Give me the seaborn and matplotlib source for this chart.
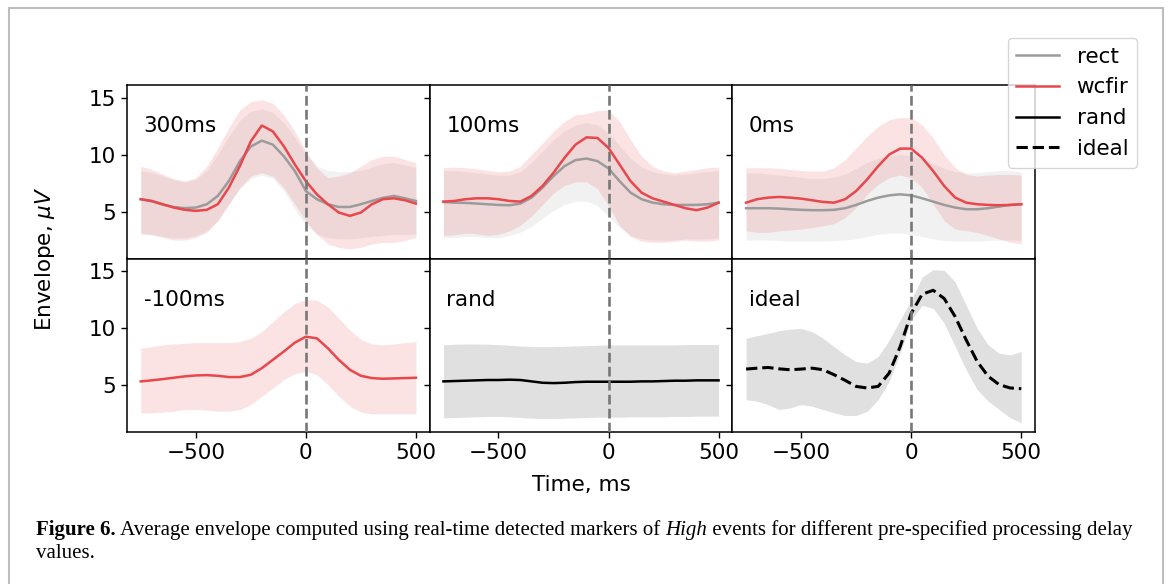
import matplotlib
matplotlib.use("Agg")
import matplotlib.pyplot as plt
import seaborn as sns
import pandas as pd
from matplotlib.lines import Line2D
from matplotlib.patches import Rectangle

# ---------------- data ----------------
T = [-750, -700, -650, -600, -550, -500, -450, -400, -350, -300, -250, -200, -150,
     -100, -50, 0, 50, 100, 150, 200, 250, 300, 350, 400, 450, 500]

# 300 ms delay
rect_300 = [6.08, 5.90, 5.60, 5.40, 5.30, 5.35, 5.64, 6.37, 7.67, 9.40, 10.70, 11.22, 10.87,
            9.85, 8.55, 6.80, 6.08, 5.64, 5.40, 5.40, 5.64, 5.93, 6.20, 6.37, 6.16, 5.93]
rect_300_lo = [3.1, 3.0, 2.8, 2.7, 2.7, 2.9, 3.3, 4.2, 5.6, 7.0, 7.9, 8.2, 7.9,
               6.8, 5.2, 3.8, 3.0, 2.7, 2.6, 2.6, 2.7, 2.8, 2.9, 3.0, 3.0, 3.0]
rect_300_hi = [8.6, 8.4, 8.1, 7.8, 7.6, 7.8, 8.6, 10.0, 11.6, 13.0, 13.8, 14.0, 13.7,
               12.8, 11.5, 10.0, 9.0, 8.6, 8.5, 8.5, 8.6, 8.9, 9.2, 9.3, 9.1, 8.8]
wcfir_300 = [6.08, 5.93, 5.64, 5.35, 5.15, 5.06, 5.15, 5.64, 7.09, 8.98, 11.16, 12.55, 12.03,
             10.73, 9.13, 7.67, 6.51, 5.64, 4.91, 4.62, 4.91, 5.64, 6.08, 6.16, 5.99, 5.70]
wcfir_300_lo = [3.02, 2.95, 2.73, 2.50, 2.50, 2.73, 3.17, 4.19, 5.64, 7.09, 8.11, 8.40, 8.11,
                7.09, 5.64, 4.19, 3.02, 2.15, 1.86, 1.72, 1.86, 2.15, 2.30, 2.30, 2.44, 2.73]
wcfir_300_hi = [8.98, 8.69, 8.26, 7.88, 7.67, 7.97, 8.98, 10.58, 12.33, 13.92, 14.65, 14.80, 14.50,
                13.49, 12.03, 10.29, 8.84, 7.97, 8.11, 8.40, 8.98, 9.56, 9.85, 9.85, 9.56, 9.27]

# 100 ms delay
rect_100 = [5.84, 5.78, 5.76, 5.70, 5.64, 5.58, 5.55, 5.70, 6.22, 7.09, 8.11, 8.98, 9.51,
            9.65, 9.42, 8.78, 7.67, 6.66, 6.08, 5.78, 5.64, 5.58, 5.58, 5.58, 5.64, 5.78]
rect_100_lo = [2.7, 2.7, 2.8, 2.8, 2.7, 2.7, 2.9, 3.2, 3.7, 4.4, 5.1, 5.6, 5.9,
               5.9, 5.5, 4.6, 3.6, 2.9, 2.6, 2.5, 2.5, 2.5, 2.6, 2.6, 2.6, 2.7]
rect_100_hi = [8.6, 8.6, 8.5, 8.4, 8.3, 8.2, 8.2, 8.5, 9.3, 10.3, 11.3, 12.1, 12.6,
               12.8, 12.6, 11.9, 10.8, 9.7, 8.9, 8.5, 8.3, 8.2, 8.3, 8.4, 8.5, 8.6]
wcfir_100 = [5.87, 5.93, 6.08, 6.16, 6.16, 6.08, 5.93, 5.87, 6.37, 7.24, 8.40, 9.71, 10.87,
             11.51, 11.45, 10.58, 9.13, 7.67, 6.66, 6.16, 5.87, 5.58, 5.29, 5.12, 5.35, 5.78]
wcfir_100_lo = [2.90, 2.95, 3.10, 3.05, 2.90, 3.00, 3.30, 3.80, 4.60, 5.60, 6.60, 7.30, 7.60,
                7.60, 7.00, 5.50, 3.80, 2.80, 2.40, 2.30, 2.30, 2.40, 2.50, 2.40, 2.40, 2.50]
wcfir_100_hi = [8.84, 8.90, 8.84, 8.75, 8.60, 8.49, 8.55, 8.98, 10.00, 11.00, 12.03, 12.90, 13.49,
                13.60, 13.85, 13.90, 12.90, 11.30, 9.85, 8.98, 8.55, 8.40, 8.55, 8.69, 8.84, 8.90]

# 0 ms delay
rect_0 = [5.29, 5.29, 5.29, 5.26, 5.20, 5.15, 5.12, 5.12, 5.15, 5.29, 5.58, 5.93, 6.22,
          6.42, 6.51, 6.42, 6.16, 5.87, 5.58, 5.35, 5.20, 5.20, 5.29, 5.44, 5.58, 5.64]
rect_0_lo = [2.5, 2.5, 2.5, 2.45, 2.4, 2.4, 2.4, 2.4, 2.45, 2.5, 2.6, 2.8, 3.0,
             3.1, 3.1, 3.0, 2.8, 2.6, 2.45, 2.4, 2.4, 2.4, 2.45, 2.5, 2.5, 2.5]
rect_0_hi = [8.4, 8.4, 8.3, 8.2, 8.1, 8.0, 7.9, 7.9, 8.0, 8.3, 8.8, 9.3, 9.7,
             9.9, 10.0, 9.9, 9.6, 9.2, 8.8, 8.5, 8.4, 8.4, 8.5, 8.6, 8.6, 8.5]
wcfir_0 = [5.78, 6.08, 6.22, 6.28, 6.22, 6.13, 5.99, 5.84, 5.78, 6.08, 6.80, 7.82, 8.98,
           10.00, 10.52, 10.52, 9.71, 8.55, 7.24, 6.22, 5.78, 5.64, 5.58, 5.55, 5.58, 5.64]
wcfir_0_lo = [3.31, 3.17, 3.17, 3.31, 3.37, 3.46, 3.60, 3.75, 3.95, 4.48, 5.35, 6.51, 7.38,
              7.97, 8.20, 7.97, 7.09, 5.64, 4.19, 3.46, 3.31, 3.17, 2.88, 2.59, 2.30, 2.15]
wcfir_0_hi = [8.84, 8.84, 8.84, 8.78, 8.69, 8.60, 8.55, 8.55, 8.84, 9.56, 10.58, 11.60, 12.47,
              13.05, 13.26, 13.20, 12.60, 11.45, 10.00, 8.84, 8.26, 8.11, 8.20, 8.26, 8.26, 8.20]

# -100 ms delay
wcfir_m100 = [5.32, 5.41, 5.52, 5.64, 5.76, 5.84, 5.87, 5.81, 5.70, 5.70, 5.90, 6.48, 7.21,
              7.94, 8.72, 9.24, 9.10, 8.23, 7.21, 6.34, 5.81, 5.61, 5.55, 5.58, 5.61, 5.64]
wcfir_m100_lo = [2.56, 2.56, 2.62, 2.70, 2.85, 2.85, 2.79, 2.70, 2.70, 2.85, 3.28, 4.01, 4.74,
                 5.47, 5.99, 6.19, 5.90, 5.03, 4.01, 3.14, 2.62, 2.47, 2.47, 2.47, 2.47, 2.47]
wcfir_m100_hi = [8.23, 8.37, 8.52, 8.60, 8.66, 8.72, 8.72, 8.72, 8.72, 8.81, 9.10, 9.68, 10.55,
                 11.42, 12.15, 12.50, 12.44, 11.86, 10.84, 9.83, 9.01, 8.60, 8.52, 8.60, 8.72, 8.81]

# random markers
rand = [5.32, 5.35, 5.38, 5.41, 5.44, 5.44, 5.47, 5.44, 5.32, 5.20, 5.17, 5.20, 5.26,
        5.29, 5.29, 5.29, 5.29, 5.29, 5.32, 5.32, 5.35, 5.38, 5.38, 5.41, 5.41, 5.41]
rand_lo = [2.12, 2.15, 2.18, 2.21, 2.24, 2.24, 2.21, 2.15, 2.09, 2.06, 2.06, 2.09, 2.12,
           2.15, 2.18, 2.18, 2.18, 2.21, 2.21, 2.21, 2.21, 2.24, 2.24, 2.27, 2.27, 2.27]
rand_hi = [8.52, 8.58, 8.60, 8.60, 8.58, 8.55, 8.49, 8.43, 8.37, 8.37, 8.37, 8.40, 8.43,
           8.46, 8.49, 8.52, 8.52, 8.52, 8.52, 8.52, 8.52, 8.52, 8.55, 8.55, 8.55, 8.55]

# ideal markers
ideal = [6.40, 6.48, 6.54, 6.42, 6.34, 6.40, 6.48, 6.34, 5.90, 5.41, 4.88, 4.74, 4.88,
         6.05, 8.37, 11.28, 12.97, 13.31, 12.59, 10.99, 8.95, 7.06, 5.76, 5.03, 4.74, 4.68]
ideal_lo = [3.72, 3.58, 3.28, 2.85, 2.99, 3.28, 3.14, 2.85, 2.56, 2.33, 2.33, 2.70, 3.72,
            5.32, 7.79, 10.70, 12.00, 11.72, 10.41, 8.37, 6.34, 4.59, 3.58, 2.85, 2.12, 1.69]
ideal_hi = [9.10, 9.33, 9.53, 9.77, 9.91, 9.97, 9.68, 9.10, 8.37, 7.65, 7.06, 6.92, 7.50,
            8.95, 10.70, 12.44, 14.48, 15.12, 15.06, 14.04, 12.00, 9.97, 8.52, 7.79, 7.65, 7.94]

panel_titles = ["300ms", "100ms", "0ms", "-100ms", "rand", "ideal"]
panel_series = [
    [("rect", rect_300, rect_300_lo, rect_300_hi), ("wcfir", wcfir_300, wcfir_300_lo, wcfir_300_hi)],
    [("rect", rect_100, rect_100_lo, rect_100_hi), ("wcfir", wcfir_100, wcfir_100_lo, wcfir_100_hi)],
    [("rect", rect_0, rect_0_lo, rect_0_hi), ("wcfir", wcfir_0, wcfir_0_lo, wcfir_0_hi)],
    [("wcfir", wcfir_m100, wcfir_m100_lo, wcfir_m100_hi)],
    [("rand", rand, rand_lo, rand_hi)],
    [("ideal", ideal, ideal_lo, ideal_hi)],
]
legend_labels = ["rect", "wcfir", "rand", "ideal"]
x_ticks = [-500, 0, 500]
y_ticks = [5, 10, 15]

cap_bold = "Figure 6."
cap_a = " Average envelope computed using real-time detected markers of "
cap_it = "High"
cap_b = " events for different pre-specified processing delay"
cap_line2 = "values."

# ---------------- styles ----------------
STY = {
    "rect":  dict(line="#9b9b9b", fill="#999999", alpha=0.13, ls="-", lw=1.8),
    "wcfir": dict(line="#e8474c", fill="#e8474c", alpha=0.15, ls="-", lw=1.8),
    "rand":  dict(line="black", fill="black", alpha=0.12, ls="-", lw=1.8),
    "ideal": dict(line="black", fill="black", alpha=0.12, ls="--", lw=2.2),
}

W, H, DPI = 1169, 584, 100
FS = 15.5
plt.rcParams["font.family"] = ["DejaVu Sans"]

fig = plt.figure(figsize=(W / DPI, H / DPI), dpi=DPI)
gs = fig.add_gridspec(2, 3, left=127 / W, right=1035 / W, top=1 - 85 / H,
                      bottom=1 - 432 / H, wspace=0, hspace=0)
axes = gs.subplots(sharex=True, sharey=True)

for i, ax in enumerate(axes.flat):
    for name, m, lo, hi in panel_series[i]:
        s = STY[name]
        ax.fill_between(T, lo, hi, color=s["fill"], alpha=s["alpha"], lw=0)
    for name, m, lo, hi in panel_series[i]:
        s = STY[name]
        df = pd.DataFrame({"t": T, "v": m})
        sns.lineplot(data=df, x="t", y="v", ax=ax, color=s["line"], lw=s["lw"],
                     linestyle=s["ls"], legend=False)
    ax.axvline(0, color="#777777", ls="--", lw=1.9, zorder=5)
    ax.text(0.055, 0.727, panel_titles[i], transform=ax.transAxes, fontsize=FS,
            va="baseline", ha="left")
    ax.set_xlabel("")
    ax.set_ylabel("")
    ax.set_xlim(-812.5, 562.5)
    ax.set_ylim(0.88, 16.1)
    ax.set_xticks(x_ticks)
    ax.set_yticks(y_ticks)
    ax.tick_params(labelsize=FS, length=4.5, width=1.0)
    for sp in ax.spines.values():
        sp.set_linewidth(1.1)

for ax in axes[0]:
    ax.tick_params(axis="x", length=0)

handles = [Line2D([], [], color=STY[n]["line"], lw=STY[n]["lw"], ls=STY[n]["ls"])
           for n in legend_labels]
fig.legend(handles, legend_labels, loc="upper right", bbox_to_anchor=(1137 / W, 1 - 38 / H),
           borderaxespad=0, fontsize=FS, framealpha=0.8)

fig.text(45 / W, 1 - 258.5 / H, r"Envelope, $\mu V$", rotation=90, ha="center",
         va="center", fontsize=FS)
fig.text(581 / W, 1 - 485 / H, "Time, ms", ha="center", va="center", fontsize=FS)

# frame around the figure
fig.patches.append(Rectangle((9 / W, -0.1), (1163 - 9) / W, 1.1 - 8 / H,
                             transform=fig.transFigure, fill=False, ec="#bdbdbd",
                             lw=1.5, clip_on=False))

# caption
serif = ["Liberation Serif", "DejaVu Serif"]
pieces = [(cap_bold, "bold", "normal"), (cap_a, "normal", "normal"),
          (cap_it, "normal", "italic"), (cap_b, "normal", "normal")]
txts = [fig.text(0, 1 - 535 / H, s, fontsize=14, fontweight=w, fontstyle=st,
                 family=serif, va="baseline", ha="left") for s, w, st in pieces]
fig.canvas.draw()
r = fig.canvas.get_renderer()
total = sum(t.get_window_extent(r).width for t in txts)
cfs = 14 * 1097 / total
for t in txts:
    t.set_fontsize(cfs)
fig.canvas.draw()
x = 36.0
for t in txts:
    t.set_x(x / W)
    x += t.get_window_extent(r).width
fig.text(36 / W, 1 - 558 / H, cap_line2, fontsize=cfs, family=serif, va="baseline", ha="left")

fig.savefig("out.png", dpi=DPI)
